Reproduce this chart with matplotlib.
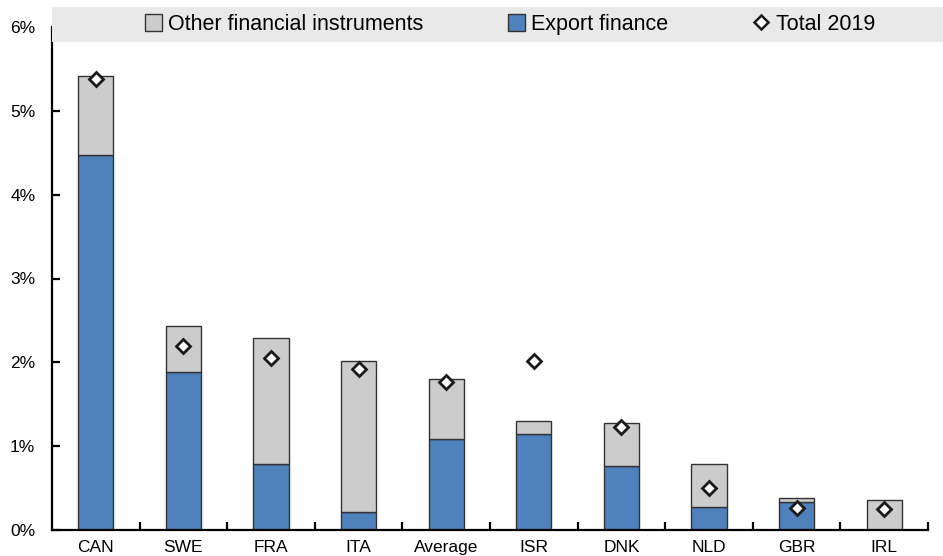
import matplotlib
matplotlib.use("Agg")
import matplotlib.pyplot as plt
from matplotlib.patches import Rectangle
from matplotlib.lines import Line2D
from matplotlib.ticker import FuncFormatter, MultipleLocator

plt.rcParams['font.family'] = ['Liberation Sans', 'DejaVu Sans']

countries = ["CAN", "SWE", "FRA", "ITA", "Average", "ISR", "DNK", "NLD", "GBR", "IRL"]
export_finance = [4.47, 1.88, 0.79, 0.21, 1.09, 1.15, 0.76, 0.28, 0.33, 0.00]
other_instruments = [0.94, 0.55, 1.50, 1.81, 0.71, 0.15, 0.52, 0.51, 0.05, 0.36]
total_2019 = [5.38, 2.19, 2.05, 1.92, 1.76, 2.02, 1.23, 0.50, 0.26, 0.25]

blue = "#4F81BD"
grey = "#CCCCCC"
edge = "#333333"

fig = plt.figure(figsize=(9.43, 5.56), dpi=100)
W, H = 943, 556
ax = fig.add_axes([52 / W, 1 - 530 / H, (928 - 52) / W, (530 - 27) / H])

x = list(range(len(countries)))
ax.bar(x, export_finance, width=0.40, color=blue, edgecolor=edge, linewidth=1.0, zorder=2)
ax.bar(x, other_instruments, width=0.40, bottom=export_finance, color=grey,
       edgecolor=edge, linewidth=1.0, zorder=2)
ax.plot(x, total_2019, linestyle="none", marker="D", markersize=7.5,
        markerfacecolor="white", markeredgecolor="#1a1a1a", markeredgewidth=2.0, zorder=3)

ax.set_xlim(-0.5, len(countries) - 0.5)
ax.set_ylim(0, 6)
ax.yaxis.set_major_locator(MultipleLocator(1))
ax.yaxis.set_major_formatter(FuncFormatter(lambda v, p: f"{v:.0f}%"))
ax.set_xticks(x)
ax.set_xticklabels(countries)
ax.set_xticks([i + 0.5 for i in x], minor=True)

for s in ("top", "right"):
    ax.spines[s].set_visible(False)
for s in ("left", "bottom"):
    ax.spines[s].set_linewidth(1.6)
    ax.spines[s].set_color("black")

ax.tick_params(axis="y", direction="in", length=6, width=1.6, labelsize=12.5, pad=12)
ax.tick_params(axis="x", which="major", length=0, labelsize=12.5, pad=7)
ax.tick_params(axis="x", which="minor", direction="in", length=6, width=1.6)

# legend band across the top
fig.patches.append(Rectangle((52 / W, 1 - 42 / H), (W - 52) / W, 35 / H,
                             transform=fig.transFigure, facecolor="#E9E9E9",
                             edgecolor="none", zorder=0))
handles = [
    Rectangle((0, 0), 1, 1, facecolor=grey, edgecolor=edge, linewidth=1.0),
    Rectangle((0, 0), 1, 1, facecolor=blue, edgecolor=edge, linewidth=1.0),
    Line2D([], [], linestyle="none", marker="D", markersize=7, markerfacecolor="white",
           markeredgecolor="#1a1a1a", markeredgewidth=1.8),
]
labels = ["Other financial instruments", "Export finance", "Total 2019"]
fig.legend(handles, labels, loc="center", bbox_to_anchor=(510 / W, 1 - 24.5 / H),
           ncol=3, frameon=False, fontsize=15.5, handlelength=0.8, handleheight=0.8,
           handletextpad=0.3, columnspacing=3.9)

fig.savefig("out.png", dpi=100)
